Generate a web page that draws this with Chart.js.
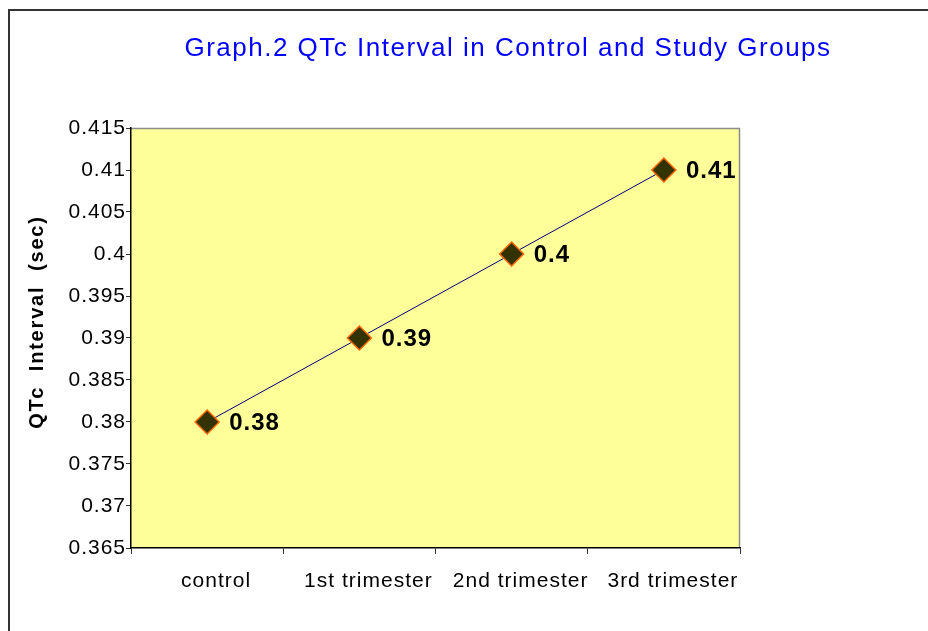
<!DOCTYPE html>
<html>
<head>
<meta charset="utf-8">
<script src="https://cdn.jsdelivr.net/npm/chart.js@4/dist/chart.umd.min.js"></script>
<style>
  html, body { margin: 0; padding: 0; background: #ffffff; width: 928px; height: 631px; overflow: hidden; }
  #frame { position: absolute; left: 8px; top: 9px; width: 2000px; height: 2000px;
           border-left: 2px solid #333333; border-top: 2px solid #333333; box-sizing: border-box; }
  #title { position: absolute; left: 0; width: 1016px; top: 32px; text-align: center;
           font-family: "Liberation Sans", Arial, sans-serif; font-size: 26px; letter-spacing: 1.5px;
           color: #0000ff; line-height: 30px; white-space: nowrap; }
  #c { position: absolute; left: 0; top: 0; }
</style>
</head>
<body>
<div id="frame"></div>
<canvas id="c" width="928" height="631"></canvas>
<div id="title">Graph.2 QTc Interval in Control and Study Groups</div>
<script>
// ---- data ----
const categories = ['control', '1st trimester', '2nd trimester', '3rd trimester'];
const qtcValues = [0.38, 0.39, 0.40, 0.41];
const yAxisTitle = 'QTc  Interval  (sec)';
const yMin = 0.365;
const yMax = 0.415;
const yStep = 0.005;

const FONT = '"Liberation Sans", Arial, sans-serif';

const decorPlugin = {
  id: 'decor',
  beforeDraw(chart) {
    const ctx = chart.ctx;
    const a = chart.chartArea;
    ctx.save();
    ctx.fillStyle = '#ffff99';
    ctx.fillRect(a.left, a.top, a.right - a.left, a.bottom - a.top);
    ctx.strokeStyle = '#8c8c8c';
    ctx.lineWidth = 1.5;
    ctx.beginPath();
    ctx.moveTo(a.left, a.top + 0.5);
    ctx.lineTo(a.right - 0.5, a.top + 0.5);
    ctx.lineTo(a.right - 0.5, a.bottom);
    ctx.stroke();
    ctx.restore();
    // widen the library's text slightly, like the reference rendering
    ctx.letterSpacing = '1px';
  },
  afterDatasetsDraw(chart) {
    const ctx = chart.ctx;
    const meta = chart.getDatasetMeta(0);
    ctx.save();
    ctx.letterSpacing = '1px';
    ctx.font = 'bold 24px ' + FONT;
    ctx.fillStyle = '#000000';
    ctx.textAlign = 'left';
    ctx.textBaseline = 'middle';
    meta.data.forEach((pt, i) => {
      ctx.fillText(String(qtcValues[i]), pt.x + 22, pt.y + 1);
    });
    ctx.restore();
  },
  afterDraw(chart) {
    const ctx = chart.ctx;
    const a = chart.chartArea;
    ctx.save();
    ctx.letterSpacing = '1.8px';
    ctx.font = 'bold 20px ' + FONT;
    ctx.fillStyle = '#000000';
    ctx.textAlign = 'center';
    ctx.textBaseline = 'middle';
    ctx.translate(37, (a.top + a.bottom) / 2 - 16);
    ctx.rotate(-Math.PI / 2);
    ctx.fillText(yAxisTitle, 0, 0);
    ctx.restore();
  }
};

new Chart(document.getElementById('c'), {
  type: 'line',
  data: {
    labels: categories,
    datasets: [{
      data: qtcValues,
      borderColor: '#000080',
      borderWidth: 1,
      pointStyle: 'rectRot',
      pointRadius: 12,
      pointHoverRadius: 12,
      pointBackgroundColor: '#333300',
      pointBorderColor: '#ff6600',
      pointBorderWidth: 1.5,
      tension: 0,
      fill: false
    }]
  },
  options: {
    responsive: false,
    animation: false,
    events: [],
    layout: { padding: { top: 128, right: 188, bottom: 0, left: 0 } },
    plugins: {
      legend: { display: false },
      title: { display: false },
      tooltip: { enabled: false }
    },
    scales: {
      x: {
        type: 'category',
        offset: true,
        afterFit(s) { s.height = 83; },
        grid: { offset: true, drawOnChartArea: false, tickLength: 6, color: '#333333', tickWidth: 1 },
        border: { display: true, color: '#000000', width: 1.5 },
        ticks: { color: '#000000', font: { family: FONT, size: 21 }, padding: 15, labelOffset: 9, maxRotation: 0, autoSkip: false }
      },
      y: {
        min: yMin,
        max: yMax,
        afterFit(s) { s.width = 131; },
        grid: { drawOnChartArea: false, tickLength: 5, color: '#333333', tickWidth: 1 },
        border: { display: true, color: '#000000', width: 1.5 },
        ticks: {
          stepSize: yStep,
          color: '#000000',
          font: { family: FONT, size: 21 },
          padding: 0,
          callback: (v) => String(parseFloat(Number(v).toFixed(3)))
        }
      }
    }
  },
  plugins: [decorPlugin]
});
</script>
</body>
</html>
